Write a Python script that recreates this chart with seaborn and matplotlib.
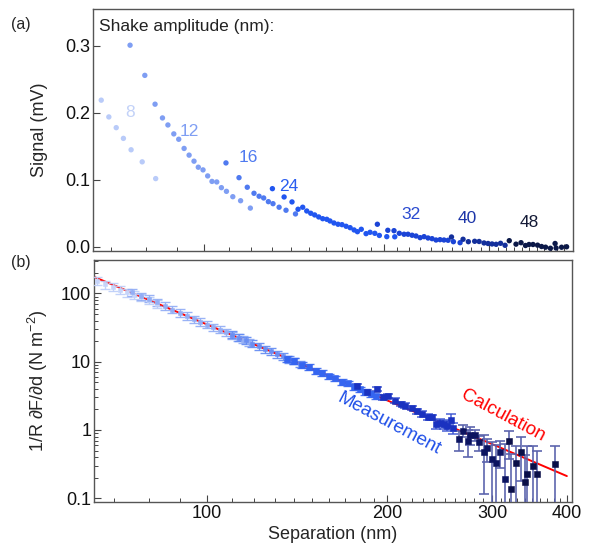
import matplotlib
matplotlib.use('Agg')
import matplotlib.pyplot as plt
import seaborn as sns
import pandas as pd
from matplotlib.ticker import FixedLocator, NullFormatter, FixedFormatter

# ---------------- data: panel (a) ----------------
amp_labels = ['8', '12', '16', '24', '32', '40', '48']

sep_8 = [67.3, 69.3, 71.3, 73.3, 75.5, 78.8, 83.0]
sig_8 = [0.219, 0.194, 0.178, 0.162, 0.145, 0.127, 0.102]

sep_12 = [75.2, 79.6, 82.8, 85.2, 87.0, 89.0, 90.7, 92.6, 94.4, 96.2, 97.8, 99.6,
          101.4, 103.1, 105.0, 106.9, 109.0, 111.7, 115.1, 119.5]
sig_12 = [0.301, 0.256, 0.213, 0.1925, 0.182, 0.1687, 0.1607, 0.147, 0.137, 0.128,
          0.119, 0.115, 0.106, 0.0978, 0.097, 0.0885, 0.083, 0.075, 0.069, 0.058]

sep_16 = [108.8, 114.4, 118.1, 121.2, 123.6, 125.8, 128.1, 130.4, 133.5, 137.1, 142.2]
sig_16 = [0.1254, 0.1034, 0.0891, 0.0801, 0.0757, 0.0731, 0.0676, 0.0646, 0.0593,
          0.0548, 0.0493]

sep_24 = [130.1, 136.1, 140.3, 143.6, 146.2, 148.5, 150.8, 153.1, 155.5, 157.9, 160.4,
          162.4, 164.9, 167.5, 170.1, 172.8, 175.5, 178.2, 180.5, 183.2, 186.6, 189.5,
          193.0, 196.4, 202.1, 208.4]
sig_24 = [0.087, 0.0746, 0.0672, 0.0563, 0.0593, 0.0537, 0.0503, 0.0478, 0.0448, 0.0422,
          0.0413, 0.0388, 0.0358, 0.0339, 0.0333, 0.0309, 0.0288, 0.0254, 0.0228, 0.0264,
          0.0199, 0.0219, 0.0204, 0.0172, 0.0154, 0.0152]

sep_32 = [194.9, 202.9, 207.8, 212.1, 216.0, 219.3, 222.8, 226.2, 229.8, 233.3, 236.9,
          240.6, 244.3, 248.1, 251.9, 255.9, 261.2, 268.0]
sig_32 = [0.0339, 0.0249, 0.0243, 0.0204, 0.019, 0.019, 0.0175, 0.0164, 0.0139, 0.0154,
          0.0134, 0.0124, 0.0104, 0.0109, 0.0104, 0.0100, 0.0079, 0.0064]

sep_40 = [259.3, 271.1, 276.7, 283.5, 288.4, 293.9, 298.5, 303.1, 307.9, 313.2, 318.7]
sig_40 = [0.0149, 0.0115, 0.0079, 0.0085, 0.0082, 0.0060, 0.0052, 0.0045, 0.0040,
          0.0055, 0.0025]

sep_48 = [323.9, 332.4, 338.9, 344.8, 349.5, 354.9, 361.2, 366.8, 372.5, 379.5, 386.4,
          387.9, 396.2, 403.9]
sig_48 = [0.0094, 0.0042, 0.0064, 0.0022, 0.0037, 0.0037, 0.0027, 0.0007, -0.0003,
          -0.0019, 0.0052, -0.0015, -0.0004, 0.0003]

# ---------------- data: panel (b) ----------------
mb_sep_8 = [65.5, 67.5, 69.5, 71.5, 73.5, 75.5, 77.5, 80.0, 82.5]
mb_val_8 = [152, 136, 124, 113, 104, 95, 88, 79, 71]
mb_err_8 = [20, 18, 16, 15, 14, 12, 11, 10, 9]

mb_sep_12 = [75.0, 77.5, 80.0, 82.5, 85.0, 87.5, 90.0, 92.5, 95.0, 97.5, 100.0, 102.5,
             105.0, 107.5, 110.0, 112.5, 115.0, 117.5]
mb_val_12 = [104, 92, 84, 74, 66, 58, 52, 47, 42, 38.5, 35, 32, 29.5, 27, 24.5, 22.5,
             21, 19.2]
mb_err_12 = [12, 11, 10, 9, 8, 7, 6.2, 5.6, 5.0, 4.6, 4.2, 3.8, 3.5, 3.2, 2.9, 2.7,
             2.5, 2.3]

mb_sep_16 = [110, 113, 116, 119, 122, 125, 128, 131, 134, 137, 140, 143]
mb_val_16 = [25, 22.6, 20.5, 18.4, 16.9, 15.3, 14.2, 12.8, 12.0, 10.9, 10.2, 9.3]
mb_err_16 = [2.8, 2.6, 2.3, 2.1, 1.9, 1.7, 1.6, 1.4, 1.3, 1.2, 1.1, 1.0]

mb_sep_24 = [136, 140, 144, 148, 152, 156, 160, 164, 168, 172, 176, 180, 184, 188, 192]
mb_val_24 = [11.0, 10.2, 9.0, 8.3, 7.4, 6.9, 6.1, 5.7, 5.1, 4.8, 4.3, 3.95, 3.6, 3.35,
             3.1]
mb_err_24 = [1.1, 1.0, 0.9, 0.8, 0.7, 0.65, 0.6, 0.55, 0.5, 0.45, 0.42, 0.38, 0.35,
             0.33, 0.3]

mb_sep_32 = [177.9, 185.0, 192.2, 197.2, 200.7, 206.3, 210.8, 214.3, 220.0, 224.3,
             228.6, 233.9, 237.5, 241.5, 245.3, 249.4, 251.7, 255.9, 257.6]
mb_val_32 = [4.48, 3.57, 4.01, 3.01, 3.19, 2.70, 2.41, 2.28, 2.11, 1.88, 1.72, 1.57,
             1.53, 1.22, 1.27, 1.22, 1.16, 1.42, 1.06]
mb_err_32 = [0.3, 0.25, 0.28, 0.22, 0.22, 0.2, 0.18, 0.17, 0.16, 0.15, 0.15, 0.15,
             0.15, 0.18, 0.18, 0.2, 0.2, 0.3, 0.2]

mb_sep_40 = [264.2, 268.3, 273.5, 275.4, 280.7, 285.4, 290.6, 294.4, 299.7, 304.4,
             309.0, 315.0]
mb_val_40 = [0.738, 0.977, 0.697, 0.844, 0.844, 0.658, 0.474, 0.543, 0.370, 0.330,
             0.480, 0.194]
mb_err_40 = [0.24, 0.2, 0.3, 0.25, 0.16, 0.17, 0.36, 0.2, 0.3, 0.28, 0.2, 0.43]

mb_sep_48 = [320.0, 322.4, 328.7, 335.1, 340.7, 342.9, 351.3, 356.8, 381.5]
mb_val_48 = [0.680, 0.138, 0.330, 0.480, 0.175, 0.230, 0.299, 0.226, 0.316]
mb_err_48 = [0.3, 0.3, 0.26, 0.3, 0.25, 0.35, 0.28, 0.26, 0.26]

calc_sep = [65, 100, 200, 300, 400]
calc_val = [172, 35.1, 2.72, 0.62, 0.211]

# ---------------- styling ----------------
sns.set_theme(style='white')
plt.rcParams['font.family'] = ['Liberation Sans', 'DejaVu Sans']
plt.rcParams['mathtext.fontset'] = 'custom'
plt.rcParams['mathtext.rm'] = 'Liberation Sans'
plt.rcParams['mathtext.it'] = 'Liberation Sans:italic'
plt.rcParams['mathtext.default'] = 'regular'

pt_colors = ['#b9cbf9', '#7f9ef3', '#4f7af0', '#2156f0', '#1b44d6', '#14309c', '#0b1848']
lbl_colors = ['#c3d2f8', '#7f9ef3', '#4f7af0', '#2a5df0', '#2a4ad0', '#1c35a8', '#141a36']
bar_colors = ['#bccdf9', '#8fabf5', '#6089f2', '#3a68f0', '#3550d0', '#5a62ac', '#5a62ac']
mk_colors = ['#c5d4fa', '#93aef5', '#6a8ef2', '#3565f0', '#1a32c0', '#0c1460', '#0a0f48']
mk_sizes = [11, 11, 11, 13, 17, 19, 19]
bar_widths = [1.0, 1.0, 1.0, 1.0, 1.1, 1.3, 1.3]

fig = plt.figure(figsize=(5.92, 5.5), dpi=100)
ax1 = fig.add_axes([93/592, 1-251/550, 480/592, 242/550])
ax2 = fig.add_axes([94/592, 1-502/550, 478/592, 242/550])

# ---- panel (a)
seps = [sep_8, sep_12, sep_16, sep_24, sep_32, sep_40, sep_48]
sigs = [sig_8, sig_12, sig_16, sig_24, sig_32, sig_40, sig_48]
frames = []
for lab, s, v in zip(amp_labels, seps, sigs):
    frames.append(pd.DataFrame({'sep': s, 'sig': v, 'amp': lab}))
dfa = pd.concat(frames, ignore_index=True)

ax1.set_xscale('log')
sns.scatterplot(data=dfa, x='sep', y='sig', hue='amp', hue_order=amp_labels,
                palette=pt_colors, s=15, linewidth=0, legend=False, ax=ax1, zorder=3)
ax1.set_xlim(65.2, 414)
ax1.set_ylim(-0.006, 0.355)

lab_x = [75.2, 94.5, 118.5, 138.7, 222, 275, 350]
lab_y = [0.201, 0.172, 0.133, 0.0896, 0.049, 0.043, 0.036]
for t, x, y, c in zip(amp_labels, lab_x, lab_y, lbl_colors):
    ax1.text(x, y, t, color=c, fontsize=12.5, ha='center', va='center')
ax1.text(0.013, 0.926, 'Shake amplitude (nm):', transform=ax1.transAxes,
         fontsize=12.5, ha='left', va='center', color='#222222')

ax1.set_ylabel('Signal (mV)', fontsize=13, labelpad=12)
ax1.set_xlabel('')
ax1.yaxis.set_major_locator(FixedLocator([0.0, 0.1, 0.2, 0.3]))
ax1.yaxis.set_major_formatter(FixedFormatter(['0.0', '0.1', '0.2', '0.3']))
minor_x = [70, 80, 90] + list(range(110, 200, 10)) + list(range(210, 300, 10)) + \
    list(range(310, 400, 10))
ax1.xaxis.set_major_locator(FixedLocator([100, 200, 300, 400]))
ax1.xaxis.set_minor_locator(FixedLocator(minor_x))
ax1.xaxis.set_major_formatter(NullFormatter())
ax1.xaxis.set_minor_formatter(NullFormatter())

# ---- panel (b)
ax2.set_xscale('log')
ax2.set_yscale('log')
dfc = pd.DataFrame({'sep': calc_sep, 'val': calc_val})
sns.lineplot(data=dfc, x='sep', y='val', color='#ff0000', linewidth=1.4, ax=ax2, zorder=2)

mb_seps = [mb_sep_8, mb_sep_12, mb_sep_16, mb_sep_24, mb_sep_32, mb_sep_40, mb_sep_48]
mb_vals = [mb_val_8, mb_val_12, mb_val_16, mb_val_24, mb_val_32, mb_val_40, mb_val_48]
mb_errs = [mb_err_8, mb_err_12, mb_err_16, mb_err_24, mb_err_32, mb_err_40, mb_err_48]
for i, (s, v, e) in enumerate(zip(mb_seps, mb_vals, mb_errs)):
    ax2.errorbar(s, v, yerr=e, fmt='none', ecolor=bar_colors[i], elinewidth=bar_widths[i],
                 capsize=3.5, capthick=bar_widths[i], zorder=3, alpha=0.9)
    dfm = pd.DataFrame({'sep': s, 'val': v})
    sns.scatterplot(data=dfm, x='sep', y='val', marker='s', s=mk_sizes[i], color=mk_colors[i],
                    edgecolor=mk_colors[i], linewidth=0.4, ax=ax2, zorder=4, legend=False)

ax2.set_xlim(64.7, 408)
ax2.set_ylim(0.088, 309)
ax2.xaxis.set_major_locator(FixedLocator([100, 200, 300, 400]))
ax2.xaxis.set_major_formatter(FixedFormatter(['100', '200', '300', '400']))
ax2.xaxis.set_minor_locator(FixedLocator(minor_x))
ax2.xaxis.set_minor_formatter(NullFormatter())
ax2.yaxis.set_major_locator(FixedLocator([0.1, 1, 10, 100]))
ax2.yaxis.set_major_formatter(FixedFormatter(['0.1', '1', '10', '100']))
ax2.yaxis.set_minor_locator(FixedLocator([k * 10.0**p for p in (-1, 0, 1, 2) for k in range(2, 10)]))
ax2.yaxis.set_minor_formatter(NullFormatter())
ax2.set_xlabel('Separation (nm)', fontsize=13, labelpad=3)
ax2.set_ylabel('1/R ∂F/∂d (N m$^{-2}$)', fontsize=13, labelpad=8)

ax2.text(201.5, 1.24, 'Measurement', color='#1f4fe8', fontsize=13.5, rotation=-28,
         ha='center', va='center')
ax2.text(312.6, 1.62, 'Calculation', color='#ff0000', fontsize=13.5, rotation=-28,
         ha='center', va='center')

for ax in (ax1, ax2):
    for sp in ax.spines.values():
        sp.set_color('#555555')
        sp.set_linewidth(1.0)
    ax.tick_params(which='both', bottom=True, left=True, top=False, right=False)
    ax.tick_params(which='major', direction='in', length=5, width=0.8, color='#444444',
                   labelsize=13, pad=2, labelcolor='#111111')
    ax.tick_params(which='minor', direction='in', length=3, width=0.7, color='#444444')

fig.text(11/592, 1-24/550, '(a)', fontsize=11.5, ha='left', va='center')
fig.text(11/592, 1-262/550, '(b)', fontsize=11.5, ha='left', va='center')

fig.savefig('out.png', dpi=100)
